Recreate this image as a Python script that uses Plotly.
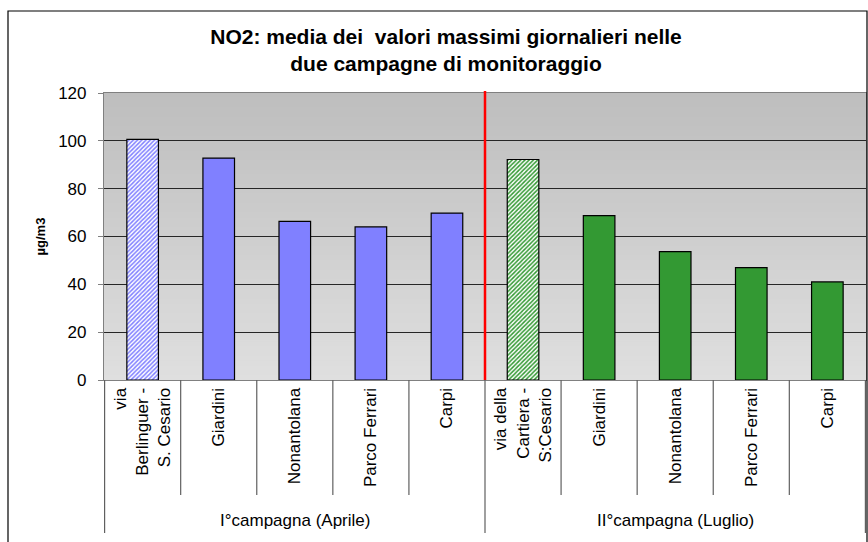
import plotly.graph_objects as go

# ---- data ----
groups = ["I°campagna (Aprile)"] * 5 + ["II°campagna (Luglio)"] * 5
stations = ["via<br>Berlinguer -<br>S. Cesario", "Giardini", "Nonantolana", "Parco Ferrari", "Carpi",
            "via della<br>Cartiera -<br>S:Cesario", "Giardini", "Nonantolana", "Parco Ferrari", "Carpi"]
values = [100.6, 92.8, 66.3, 64.0, 69.8, 92.2, 68.7, 53.7, 47.0, 41.0]
y_ticks = [0, 20, 40, 60, 80, 100, 120]
group_colors = {"I°campagna (Aprile)": "#8080ff", "II°campagna (Luglio)": "#339933"}
hatched = [True, False, False, False, False, True, False, False, False, False]

FONT = "Liberation Sans, Arial, sans-serif"

# unique category keys (station names repeat between campaigns)
keys = [f"{g}|{s}" for g, s in zip(groups, stations)]
group_names = list(dict.fromkeys(groups))

fig = go.Figure()
for g in group_names:
    idx = [i for i, gg in enumerate(groups) if gg == g]
    col = group_colors[g]
    fig.add_trace(go.Bar(
        x=[keys[i] for i in idx],
        y=[values[i] for i in idx],
        marker=dict(
            color=col,
            line=dict(color="#000000", width=1.2),
            pattern=dict(shape=["/" if hatched[i] else "" for i in idx],
                         fgcolor=col, bgcolor="#ffffff",
                         size=3, solidity=0.5, fillmode="replace"),
        ),
        showlegend=False,
        hovertemplate="%{y}<extra></extra>",
    ))

W, H = 868, 542
ml, mr, mt, mb = 104, 2, 93, 162
pw, ph = W - ml - mr, H - mt - mb

shapes = []
# gradient background of plot area
n = 60
c_top, c_bot = 0xBE, 0xDF
for i in range(n):
    f = i / (n - 1)
    v = int(round(c_bot + (c_top - c_bot) * f))
    col = "#%02x%02x%02x" % (v, v, v)
    shapes.append(dict(type="rect", xref="x domain", yref="y domain",
                       x0=0, x1=1, y0=i / n, y1=(i + 1) / n + 0.002,
                       fillcolor=col, line=dict(width=0), layer="below"))

# category boundaries below axis (long ones at campaign boundaries)
ncat = len(values)
for i in range(ncat + 1):
    xb = i - 0.5
    is_group = i == 0 or i == ncat or groups[i - 1] != groups[i]
    y_end = -(533 - 380) / ph if is_group else -(495 - 380) / ph
    shapes.append(dict(type="line", xref="x", yref="paper", x0=xb, x1=xb,
                       y0=0, y1=y_end, line=dict(color="#606060", width=1.2)))

# red separator between campaigns
sep = [i - 0.5 for i in range(1, ncat) if groups[i - 1] != groups[i]]
for xb in sep:
    shapes.append(dict(type="line", xref="x", yref="paper", x0=xb, x1=xb,
                       y0=0, y1=1 + 2 / ph, line=dict(color="#ff0000", width=2.5)))

# outer chart frame
shapes.append(dict(type="rect", xref="paper", yref="paper",
                   x0=(8 - ml) / pw, x1=(867 - ml) / pw,
                   y0=(H - mb - 546) / ph, y1=(H - mb - 11) / ph,
                   line=dict(color="#000000", width=1.2), fillcolor="rgba(0,0,0,0)"))

# campaign labels
annotations = []
for g in group_names:
    idx = [i for i, gg in enumerate(groups) if gg == g]
    xc = (idx[0] + idx[-1]) / 2
    annotations.append(dict(text=g, xref="x", yref="paper", x=xc, y=-(520 - 380) / ph,
                            xanchor="center", yanchor="middle", showarrow=False,
                            font=dict(family=FONT, size=17, color="#000000")))

fig.update_layout(
    width=W, height=H,
    margin=dict(l=ml, r=mr, t=mt, b=mb),
    paper_bgcolor="#ffffff",
    plot_bgcolor="#d0d0d0",
    font=dict(family=FONT, size=17, color="#000000"),
    title=dict(text="NO2: media dei&nbsp; valori massimi giornalieri nelle<br>due campagne di monitoraggio",
               x=446 / W, xanchor="center", y=1 - 44 / H, yanchor="top",
               font=dict(family=FONT, size=21, color="#000000", weight="bold")),
    barmode="overlay",
    bargap=0.585,
    shapes=shapes,
    annotations=annotations,
)

fig.update_xaxes(
    type="category",
    categoryorder="array", categoryarray=keys,
    tickvals=keys, ticktext=stations,
    tickangle=-90,
    ticks="",
    showgrid=False,
    showline=True, linecolor="#808080", linewidth=1.2, mirror=True,
    automargin=False,
    tickfont=dict(family=FONT, size=17, color="#000000"),
)
fig.update_yaxes(
    range=[0, 120],
    tickvals=y_ticks,
    ticks="outside", ticklen=5, tickcolor="#808080",
    ticklabelstandoff=8,
    showgrid=True, gridcolor="#262626", gridwidth=1,
    showline=True, linecolor="#808080", linewidth=1.2, mirror=True,
    zeroline=False,
    automargin=False,
    tickfont=dict(family=FONT, size=17, color="#000000"),
    title=dict(text="µg/m3", standoff=9,
               font=dict(family=FONT, size=13, color="#000000", weight="bold")),
)

fig.write_html("out.html",
               config={"displayModeBar": False},
               post_script="document.body.style.margin='0';document.body.style.overflow='hidden';")
